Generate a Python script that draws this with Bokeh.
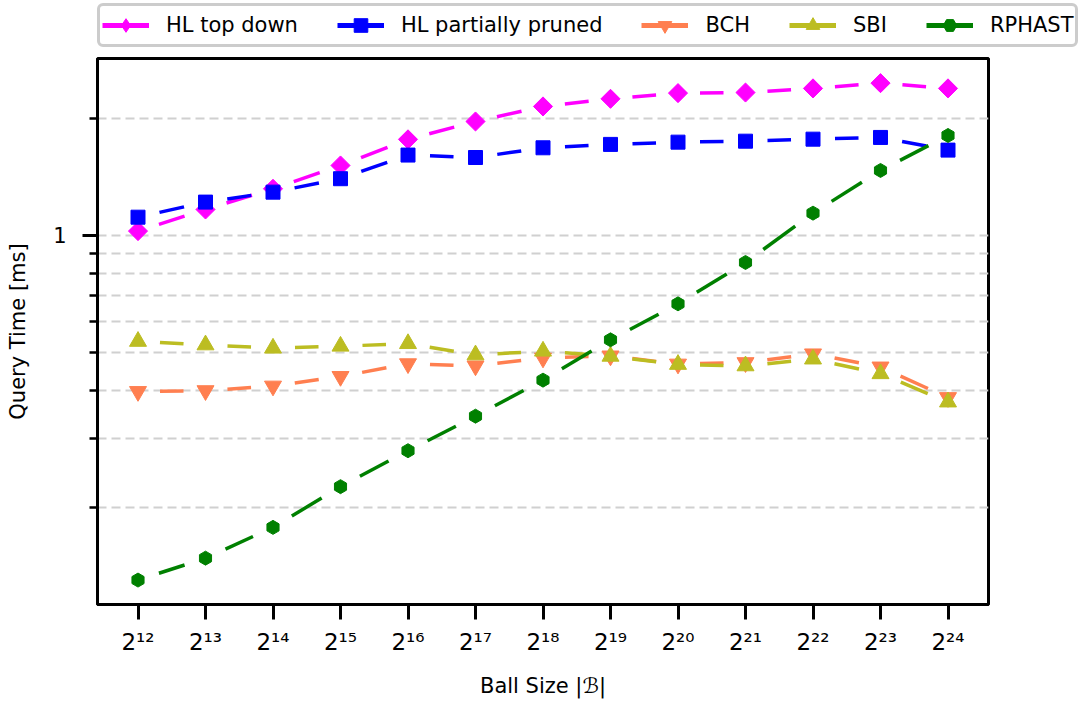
import numpy as np
from bokeh.plotting import figure
from bokeh.layouts import column
from bokeh.models import FixedTicker, Legend, LegendItem, PrintfTickFormatter, Range1d, ColumnDataSource
from bokeh.embed import file_html
from bokeh.resources import INLINE

# ---------------- data ----------------
exponents = [12, 13, 14, 15, 16, 17, 18, 19, 20, 21, 22, 23, 24]
x_tick_labels = ["2¹²", "2¹³", "2¹⁴", "2¹⁵", "2¹⁶", "2¹⁷", "2¹⁸",
                 "2¹⁹", "2²⁰", "2²¹", "2²²", "2²³", "2²⁴"]
hl_top_down = [1.026, 1.166, 1.318, 1.513, 1.766, 1.963, 2.146, 2.245, 2.322, 2.330, 2.388, 2.463, 2.388]
hl_partially_pruned = [1.114, 1.218, 1.292, 1.399, 1.609, 1.586, 1.680, 1.714, 1.737, 1.747, 1.768, 1.786, 1.657]
bch = [0.397, 0.399, 0.410, 0.434, 0.468, 0.462, 0.484, 0.490, 0.467, 0.471, 0.496, 0.459, 0.383]
sbi = [0.534, 0.523, 0.513, 0.519, 0.527, 0.493, 0.504, 0.489, 0.466, 0.462, 0.481, 0.441, 0.373]
rphast = [0.130, 0.148, 0.1776, 0.226, 0.2796, 0.343, 0.4246, 0.539, 0.667, 0.852, 1.141, 1.469, 1.807]
y_major_ticks = [1]
y_minor_ticks = [0.2, 0.3, 0.4, 0.5, 0.6, 0.7, 0.8, 0.9, 2]

# name, values, colour, plot marker, size, angle, legend marker
series = [
    ("HL top down", hl_top_down, "#ff00ff", "square", 13.5, np.pi / 4, "diamond"),
    ("HL partially pruned", hl_partially_pruned, "#0000ff", "square", 14, 0.0, "square"),
    ("BCH", bch, "#ff7f50", "inverted_triangle", 17, 0.0, "inverted_triangle"),
    ("SBI", sbi, "#bcbd22", "triangle", 17, 0.0, "triangle"),
    ("RPHAST", rphast, "#008000", "hex", 14, np.pi / 2, "hex"),
]

# ---------------- geometry ----------------
W = 1079
LEG_H = 55
H = 707 - LEG_H
BL, BR, BT, BB = 97, 91, 3, 103
FRAME_W, FRAME_H = W - BL - BR, H - BT - BB
X_START, X_END = 11.4, 24.6
Y_START, Y_END = 0.1125, 2.85
SX = FRAME_W / (X_END - X_START)
SY = FRAME_H / (np.log10(Y_END) - np.log10(Y_START))
GAP = 22.0


def gapped_segments(xs, ys, gap):
    X = (np.asarray(xs, float) - X_START) * SX
    Y = np.log10(np.asarray(ys, float)) * SY
    x0, y0, x1, y1 = [], [], [], []
    for i in range(len(X) - 1):
        dx, dy = X[i + 1] - X[i], Y[i + 1] - Y[i]
        L = np.hypot(dx, dy)
        ux, uy = dx / L, dy / L
        ax, ay = X[i] + ux * gap, Y[i] + uy * gap
        bx, by = X[i + 1] - ux * gap, Y[i + 1] - uy * gap
        x0.append(ax / SX + X_START)
        y0.append(10 ** (ay / SY))
        x1.append(bx / SX + X_START)
        y1.append(10 ** (by / SY))
    return dict(x0=x0, y0=y0, x1=x1, y1=y1)


p = figure(
    width=W, height=H,
    y_axis_type="log",
    x_range=Range1d(X_START, X_END), y_range=Range1d(Y_START, Y_END),
    output_backend="svg", toolbar_location=None,
    min_border_left=BL, min_border_right=BR, min_border_top=BT, min_border_bottom=BB,
    background_fill_color="white", border_fill_color="white",
)

p.outline_line_color = "black"
p.outline_line_width = 3

# grid
p.xgrid.grid_line_color = None
p.ygrid.grid_line_color = "#d0d0d0"
p.ygrid.grid_line_width = 2
p.ygrid.grid_line_dash = "9 5"
p.ygrid.minor_grid_line_color = "#d0d0d0"
p.ygrid.minor_grid_line_width = 2
p.ygrid.minor_grid_line_dash = "9 5"

# axes
p.xaxis.ticker = FixedTicker(ticks=exponents)
p.xaxis.major_label_overrides = {e: lab for e, lab in zip(exponents, x_tick_labels)}
p.yaxis.ticker = FixedTicker(ticks=y_major_ticks, minor_ticks=y_minor_ticks)
p.yaxis.formatter = PrintfTickFormatter(format="%d")

for ax in (p.xaxis, p.yaxis):
    ax.axis_line_color = "black"
    ax.axis_line_width = 3
    ax.major_tick_line_width = 3
    ax.major_tick_line_color = "black"
    ax.major_tick_out = 15
    ax.major_tick_in = 0
    ax.major_label_text_font = "DejaVu Sans"
    ax.major_label_text_color = "black"
    ax.axis_label_text_font = "DejaVu Sans"
    ax.axis_label_text_font_size = "21px"
    ax.axis_label_text_font_style = "normal"
    ax.axis_label_text_color = "black"

p.xaxis.major_label_text_font_size = "23px"
p.yaxis.major_label_text_font_size = "21px"
p.xaxis.minor_tick_line_color = None
p.yaxis.minor_tick_line_width = 2.5
p.yaxis.minor_tick_line_color = "black"
p.yaxis.minor_tick_out = 8
p.yaxis.minor_tick_in = 0

p.xaxis.major_label_standoff = 9
p.yaxis.major_label_standoff = 16
p.xaxis.axis_label = "Ball Size |ℬ|"
p.yaxis.axis_label = "Query Time [ms]"
p.xaxis.axis_label_standoff = 16
p.yaxis.axis_label_standoff = 20

# ---------------- legend strip ----------------
lf = figure(
    width=W, height=LEG_H, x_range=Range1d(0, 1), y_range=Range1d(0, 1),
    output_backend="svg", toolbar_location=None,
    min_border_left=0, min_border_right=0, min_border_top=0, min_border_bottom=0,
    background_fill_color="white", border_fill_color="white",
)
lf.axis.visible = False
lf.grid.visible = False
lf.outline_line_color = None
for plot in (lf, p):
    try:
        plot.frame_align = False
    except Exception:
        pass

items = []
for name, vals, color, marker, size, angle, leg_marker in series:
    seg = ColumnDataSource(gapped_segments(exponents, vals, GAP))
    p.segment("x0", "y0", "x1", "y1", source=seg, line_color=color, line_width=3.5)
    p.scatter(exponents, vals, marker=marker, size=size, angle=angle,
              fill_color=color, line_color=color, line_width=1)
    # legend proxies (outside the strip's visible range)
    lr = lf.segment(x0=[5], y0=[5], x1=[6], y1=[5], line_color=color, line_width=5)
    sr = lf.scatter(x=[5], y=[5], marker=leg_marker, size=16,
                    fill_color=color, line_color=color)
    items.append(LegendItem(label=name, renderers=[lr, sr]))

legend = Legend(items=items, orientation="horizontal", location=(BL, LEG_H - 47))
legend.label_text_font = "DejaVu Sans"
legend.label_text_font_size = "21px"
legend.label_text_color = "black"
legend.glyph_width = 47
legend.glyph_height = 34
legend.label_height = 24
legend.label_standoff = 17
legend.spacing = 39
legend.padding = 2
legend.margin = 0
legend.border_line_color = "#cccccc"
legend.border_line_width = 3
legend.border_line_alpha = 1.0
legend.background_fill_color = "white"
legend.background_fill_alpha = 1.0
try:
    legend.border_radius = 6
except Exception:
    pass
lf.add_layout(legend, "center")

layout = column(lf, p, spacing=0)
open("out.html", "w").write(file_html(layout, INLINE))
